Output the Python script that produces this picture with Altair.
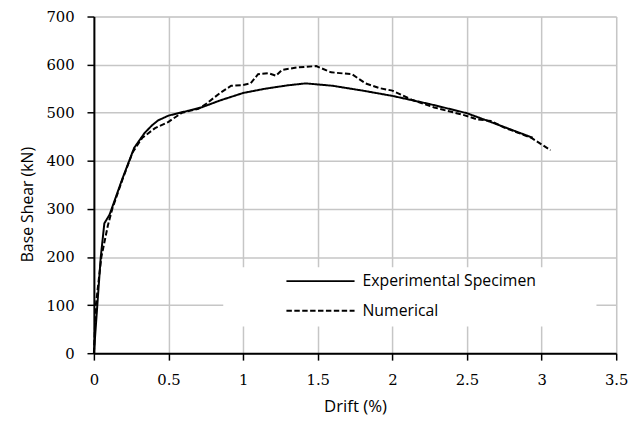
import altair as alt
import pandas as pd

# ---- data ----
exp_drift = [0, 0.023, 0.046, 0.07, 0.105, 0.19, 0.27, 0.34, 0.39, 0.43, 0.5, 0.63, 0.72,
             0.85, 1.0, 1.15, 1.3, 1.42, 1.6, 1.8, 2.0, 2.25, 2.5, 2.7, 2.94]
exp_shear = [0, 100, 200, 270, 288, 362, 427, 458, 474, 484, 494, 504, 511,
             526, 541, 550, 557, 561, 556, 546, 535, 518, 499, 476, 448]

num_drift = [0, 0.013, 0.05, 0.094, 0.123, 0.19, 0.26, 0.325, 0.41, 0.5, 0.59, 0.7,
             0.75, 0.85, 0.92, 0.99, 1.05, 1.1, 1.17, 1.22, 1.26, 1.36, 1.49, 1.59,
             1.73, 1.82, 1.915, 2.0, 2.13, 2.28, 2.48, 2.57, 2.66, 2.75, 2.93, 3.06]
num_shear = [0, 100, 200, 266, 300, 360, 418, 448, 468, 481, 500, 508,
             518, 542, 556, 557, 561, 580, 582, 577, 589, 594, 597, 584,
             580, 561, 551, 546, 527, 511, 495, 486, 483, 469, 448, 422]

series_names = ["Experimental Specimen", "Numerical"]
x_ticks = [0, 0.5, 1, 1.5, 2, 2.5, 3, 3.5]
y_ticks = [0, 100, 200, 300, 400, 500, 600, 700]

rows = []
for i, (d, s) in enumerate(zip(exp_drift, exp_shear)):
    rows.append({"series": series_names[0], "drift": d, "shear": s, "idx": i})
for i, (d, s) in enumerate(zip(num_drift, num_shear)):
    rows.append({"series": series_names[1], "drift": d, "shear": s, "idx": i})
df = pd.DataFrame(rows)

W, H = 529, 341

x_enc = alt.X("drift:Q", scale=alt.Scale(domain=[0, 3.5], nice=False),
              axis=alt.Axis(values=x_ticks, format="~g", title="Drift (%)", grid=True,
                            gridColor="#c6c6c6", gridWidth=1.5,
                            domainColor="black", domainWidth=2,
                            tickColor="black", tickWidth=1.5, tickSize=7,
                            labelFont="DejaVu Serif", labelFontSize=15, labelColor="black",
                            labelBaseline="middle", labelPadding=20, labelFlush=False,
                            titleFont="Open Sans", titleFontSize=17, titleFontWeight="normal",
                            titleColor="black", titleY=54, titleBaseline="middle"))
y_enc = alt.Y("shear:Q", scale=alt.Scale(domain=[0, 700], nice=False),
              axis=alt.Axis(values=y_ticks, format="d", title="Base Shear  (kN)", grid=True,
                            gridColor="#c6c6c6", gridWidth=1.5,
                            domainColor="black", domainWidth=2,
                            tickColor="black", tickWidth=1.5, tickSize=7,
                            labelFont="DejaVu Serif", labelFontSize=15, labelColor="black",
                            labelPadding=13, labelFlush=False,
                            titleFont="Open Sans", titleFontSize=16, titleFontWeight="normal",
                            titleColor="black", titleX=-67, titleY=190,
                            titleBaseline="middle", titleAlign="center"))

lines = alt.Chart(df).mark_line(strokeWidth=2, color="black").encode(
    x=x_enc,
    y=y_enc,
    detail="series:N",
    order="idx:Q",
    strokeDash=alt.StrokeDash("series:N",
                              scale=alt.Scale(domain=series_names, range=[[1, 0], [5.5, 2.5]]),
                              legend=None),
)

one = pd.DataFrame({"k": [0]})
legend_box = alt.Chart(one).mark_rect(color="white").encode(
    x=alt.value(131), x2=alt.value(509), y=alt.value(254), y2=alt.value(314))

leg_df = pd.DataFrame({"series": series_names, "ypix": [268, 298]})
leg_lines = alt.Chart(leg_df).mark_rule(strokeWidth=2, color="black").encode(
    x=alt.value(195), x2=alt.value(264),
    y=alt.Y("ypix:Q", scale=None),
    strokeDash=alt.StrokeDash("series:N",
                              scale=alt.Scale(domain=series_names, range=[[1, 0], [5.5, 2.5]]),
                              legend=None),
)
leg_text = alt.Chart(leg_df).mark_text(align="left", baseline="middle", font="Open Sans",
                                       fontSize=16, color="black").encode(
    x=alt.value(272), y=alt.Y("ypix:Q", scale=None), text="series:N")

chart = alt.layer(lines, legend_box, leg_lines, leg_text).properties(
    width=W, height=H,
    autosize=alt.AutoSizeParams(type="none"),
    padding={"left": 87, "top": 6, "right": 16, "bottom": 64},
).configure_view(stroke="black", strokeWidth=2).configure(background="white")

chart.save("out.html", embed_options={"renderer": "svg", "actions": False})
